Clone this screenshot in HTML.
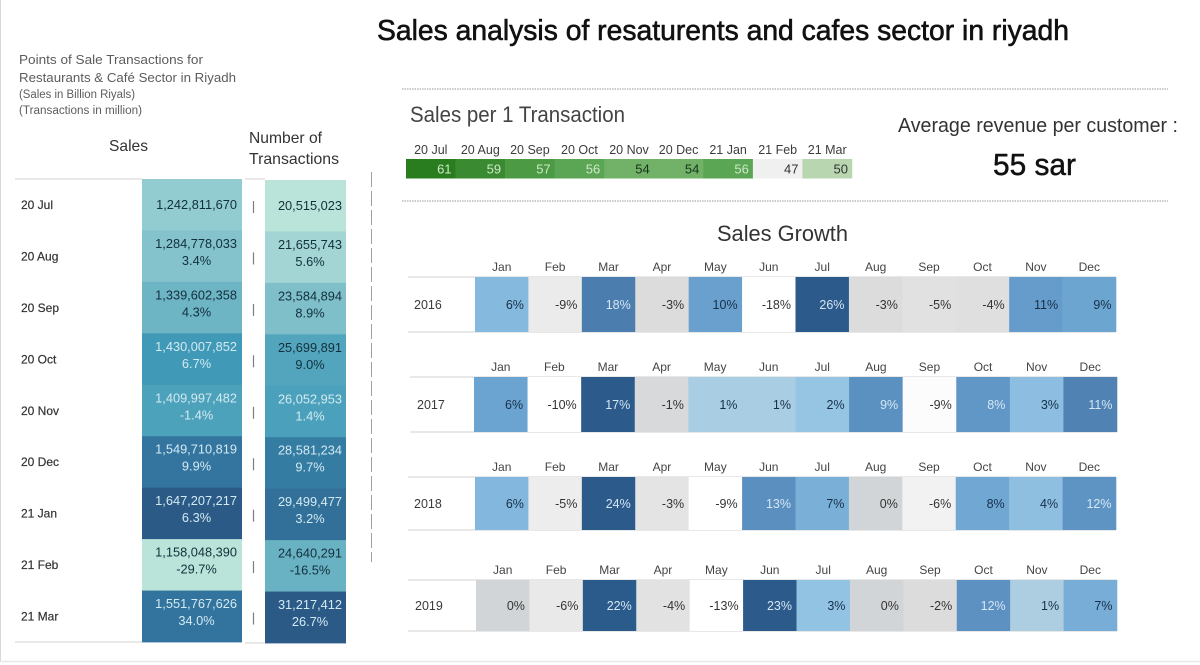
<!DOCTYPE html>
<html lang="en">
<head>
<meta charset="utf-8">
<title>Sales analysis of resaturents and cafes sector in riyadh</title>
<style>
html,body{margin:0;padding:0;background:#fff;width:1200px;height:665px;overflow:hidden}
svg{display:block}
text{font-family:"Liberation Sans",sans-serif}
</style>
</head>
<body>
<svg id="dash" xmlns="http://www.w3.org/2000/svg" width="1200" height="665" viewBox="0 0 1200 665">
<rect x="0" y="0" width="1200" height="665" fill="#fff"/>
<line x1="0.5" y1="0" x2="0.5" y2="661" stroke="#d8d8d8" stroke-width="1"/>
<line x1="0" y1="661.5" x2="1200" y2="661.5" stroke="#e8e8e8" stroke-width="1.5"/>

<text x="377" y="40" font-size="29" fill="#111" stroke="#111" stroke-width="0.6" textLength="692" lengthAdjust="spacingAndGlyphs">Sales analysis of resaturents and cafes sector in riyadh</text>

<text x="19" y="64" font-size="13" fill="#5c5c5c" textLength="184" lengthAdjust="spacingAndGlyphs">Points of Sale Transactions for</text>
<text x="19" y="82" font-size="13" fill="#5c5c5c" textLength="217" lengthAdjust="spacingAndGlyphs">Restaurants &amp; Café Sector in Riyadh</text>
<text x="19" y="98" font-size="11.5" fill="#5c5c5c" textLength="116" lengthAdjust="spacingAndGlyphs">(Sales in Billion Riyals)</text>
<text x="19" y="114" font-size="11.5" fill="#5c5c5c" textLength="123" lengthAdjust="spacingAndGlyphs">(Transactions in million)</text>
<text x="109" y="151" font-size="16" fill="#333" textLength="39" lengthAdjust="spacingAndGlyphs">Sales</text>
<text x="249" y="143" font-size="16" fill="#333" textLength="73" lengthAdjust="spacingAndGlyphs">Number of</text>
<text x="249" y="164" font-size="16" fill="#333" textLength="90" lengthAdjust="spacingAndGlyphs">Transactions</text>

<line x1="371.5" y1="172" x2="371.5" y2="562" stroke="#a0a0a0" stroke-width="1" stroke-dasharray="15 4"/>
<line x1="402" y1="89" x2="1168" y2="89" stroke="#999" stroke-width="1" stroke-dasharray="1.5 1"/>
<line x1="402" y1="201" x2="1168" y2="201" stroke="#999" stroke-width="1" stroke-dasharray="1.5 1"/>

<text x="410" y="122" font-size="22" fill="#444" textLength="215" lengthAdjust="spacingAndGlyphs">Sales per 1 Transaction</text>
<text x="898" y="132" font-size="20" fill="#333" textLength="280" lengthAdjust="spacingAndGlyphs">Average revenue per customer :</text>
<text x="993" y="175" font-size="31" fill="#111" stroke="#111" stroke-width="0.5" textLength="83" lengthAdjust="spacingAndGlyphs">55 sar</text>
<text x="717" y="241" font-size="22" fill="#333" textLength="131" lengthAdjust="spacingAndGlyphs">Sales Growth</text>
<g id="marks"></g>
</svg>
<script>
/* ---- data ---- */
var periods = ["20 Jul","20 Aug","20 Sep","20 Oct","20 Nov","20 Dec","21 Jan","21 Feb","21 Mar"];
var salesValues = [1242811670,1284778033,1339602358,1430007852,1409997482,1549710819,1647207217,1158048390,1551767626];
var salesChange = [null,3.4,4.3,6.7,-1.4,9.9,6.3,-29.7,34.0];
var transactionValues = [20515023,21655743,23584894,25699891,26052953,28581234,29499477,24640291,31217412];
var transactionChange = [null,5.6,8.9,9.0,1.4,9.7,3.2,-16.5,26.7];
var perTransaction = [61,59,57,56,54,54,56,47,50];
var months = ["Jan","Feb","Mar","Apr","May","Jun","Jul","Aug","Sep","Oct","Nov","Dec"];
var years = ["2016","2017","2018","2019"];
var growth2016 = [6,-9,18,-3,10,-18,26,-3,-5,-4,11,9];
var growth2017 = [6,-10,17,-1,1,1,2,9,-9,8,3,11];
var growth2018 = [6,-5,24,-3,-9,13,7,0,-6,8,4,12];
var growth2019 = [0,-6,22,-4,-13,23,3,0,-2,12,1,7];
var growthByYear = [growth2016,growth2017,growth2018,growth2019];

/* ---- layout (not data) ---- */
var tableTop = 179, tableBottom = 642;
var salesCol = {x0:142, x1:242, off:0};
var transCol = {x0:265, x1:346, off:1};
var heatLayout = [
  {x0:475,x1:1116,y0:277,y1:332,lx:408,hy:271,ly:309,yx:414},
  {x0:474,x1:1117,y0:377,y1:432,lx:410,hy:371,ly:409,yx:417},
  {x0:475,x1:1116,y0:477,y1:530,lx:408,hy:471,ly:508,yx:414},
  {x0:476,x1:1117,y0:580,y1:631,lx:408,hy:574,ly:610,yx:415}
];

/* ---- colour scales ---- */
var tealStops = [[0,"#bae4d9"],[.17,"#93ccd0"],[.26,"#84c2cc"],[.37,"#6db4c4"],[.51,"#4da2bc"],[.56,"#3f98b5"],[.8,"#33759f"],[1,"#2c5a87"]];
var blueStops = [[0,"#b6d0e0"],[.06,"#a9cde2"],[.13,"#92c3e3"],[.25,"#84b7dd"],[.35,"#6ca4d1"],[.5,"#5e94c4"],[.68,"#4d7fb0"],[.9,"#2c5c8c"],[1,"#2b5a8b"]];
var greenStops = [[0,"#f0f0f0"],[.21,"#b9d8b1"],[.5,"#72b168"],[.64,"#5ca655"],[.71,"#4d9a45"],[.86,"#398a30"],[1,"#2a7d1f"]];
var greyStops = [[0,"#d2d5d7"],[.16,"#dcdcdc"],[.3,"#e2e2e2"],[.5,"#ebebeb"],[.8,"#f8f8f8"],[1,"#ffffff"]];

function hex(c){return [parseInt(c.substr(1,2),16),parseInt(c.substr(3,2),16),parseInt(c.substr(5,2),16)];}
function ramp(stops,t){
  t = Math.max(0,Math.min(1,t));
  for(var i=1;i<stops.length;i++){
    if(t<=stops[i][0]){
      var a=stops[i-1],b=stops[i],k=(t-a[0])/(b[0]-a[0]),x=hex(a[1]),y=hex(b[1]);
      return "rgb("+Math.round(x[0]+(y[0]-x[0])*k)+","+Math.round(x[1]+(y[1]-x[1])*k)+","+Math.round(x[2]+(y[2]-x[2])*k)+")";
    }
  }
  return stops[stops.length-1][1];
}
function extent(a){return [Math.min.apply(null,a),Math.max.apply(null,a)];}

/* ---- drawing helpers ---- */
var NS = "http://www.w3.org/2000/svg";
var root = document.getElementById("marks");
function mk(tag,props,txt){
  var e = document.createElementNS(NS,tag);
  for(var k in props){e.setAttribute(k,props[k]);}
  if(txt!==undefined){e.textContent=txt;}
  root.appendChild(e);
  return e;
}
function fmt(n){return n.toString().replace(/\B(?=(\d{3})+(?!\d))/g,",");}
function pct(n){return n.toFixed(1)+"%";}
var el;

/* ---- left table ---- */
var rowH = (tableBottom-tableTop)/periods.length;
function rowY(i){return tableTop+i*rowH;}

[[15,142,tableTop],[245,265,tableTop],[15,142,tableBottom],[245,265,tableBottom+1]].forEach(function(s){
  el = mk("line",{x1:s[0],x2:s[1],y1:s[2],y2:s[2],stroke:"#e2e2e2","stroke-width":1.5});
  
  
});

function drawColumn(vals,chg,col,name,fs,rightPad,midOff){
  var ext = extent(vals);
  vals.forEach(function(v,i){
    var t = (v-ext[0])/(ext[1]-ext[0]);
    var y = rowY(i)+col.off;
    el = mk("rect",{x:col.x0,y:y,width:col.x1-col.x0,height:rowH+0.4,fill:ramp(tealStops,t)});
    
    
    var c = t>=0.5 ? "#d3eaf2" : "#12303c";
    var cx = col.x1-rightPad;
    var mid = (col.x0+col.x1)/2+midOff;
    if(chg[i]===null){
      el = mk("text",{x:cx,y:y+30,"font-size":fs,fill:c,"text-anchor":"end"},fmt(v));
      
      
    } else {
      el = mk("text",{x:cx,y:y+17.5,"font-size":fs,fill:c,"text-anchor":"end"},fmt(v));
      
      
      el = mk("text",{x:mid,y:y+34.5,"font-size":fs,fill:c,"text-anchor":"middle"},pct(chg[i]));
      
      
    }
  });
}
drawColumn(salesValues,salesChange,salesCol,"sales",12.8,5,4.5);
drawColumn(transactionValues,transactionChange,transCol,"transactions",12.8,4,4.5);

periods.forEach(function(p,i){
  el = mk("text",{x:21,y:rowY(i)+30,"font-size":12,fill:"#333",stroke:"#333","stroke-width":0.2},p);
  
  
  el = mk("line",{x1:253.5,x2:253.5,y1:rowY(i)+22,y2:rowY(i)+34,stroke:"#7d7d7d","stroke-width":1.2});
  
  
});

/* ---- sales per transaction strip ---- */
var stripX0=406, stripX1=852, stripY0=159, stripY1=178.5;
var stripW=(stripX1-stripX0)/periods.length;
var ptExt=extent(perTransaction);
perTransaction.forEach(function(v,i){
  var t=(v-ptExt[0])/(ptExt[1]-ptExt[0]);
  var x=stripX0+i*stripW;
  el = mk("rect",{x:x,y:stripY0,width:stripW+0.3,height:stripY1-stripY0,fill:ramp(greenStops,t)});
  
  
  el = mk("text",{x:x+stripW-4,y:stripY0+14.5,"font-size":13,"text-anchor":"end",fill:t>=0.6?"#cfe8c8":(t<0.3?"#333":"#17351a")},v);
  
  
  el = mk("text",{x:x+stripW/2,y:154,"font-size":12.5,"text-anchor":"middle",fill:"#3d3d3d"},periods[i]);
  
  
});

/* ---- sales growth heat maps ---- */
function growthColor(v,lo,hi){
  if(v<0){return ramp(greyStops,v/lo);}
  if(v===0){return greyStops[0][1];}
  return ramp(blueStops,v/hi);
}
growthByYear.forEach(function(vals,r){
  var L=heatLayout[r], ext=extent(vals), w=(L.x1-L.x0)/months.length;
  [L.y0,L.y1].forEach(function(ly){
    el = mk("line",{x1:L.lx,x2:L.x1,y1:ly,y2:ly,stroke:"#e0e0e0","stroke-width":1.5});
    
    
  });
  el = mk("text",{x:L.yx,y:L.ly,"font-size":12.5,fill:"#3a3a3a"},years[r]);
  
  
  vals.forEach(function(v,i){
    var x=L.x0+i*w;
    el = mk("rect",{x:x,y:L.y0,width:w+0.3,height:L.y1-L.y0,fill:growthColor(v,ext[0],ext[1])});
    
    
    var light = v>0 && v/ext[1]>=0.45;
    var fill = light ? "#d6e6f4" : (v>0 ? "#16304a" : "#333");
    el = mk("text",{x:x+w-4.5,y:L.ly,"font-size":12.5,"text-anchor":"end",fill:fill},v+"%");
    
    
    el = mk("text",{x:x+w/2,y:L.hy,"font-size":12,"text-anchor":"middle",fill:"#444"},months[i]);
    
    
  });
});
</script>
</body>
</html>
